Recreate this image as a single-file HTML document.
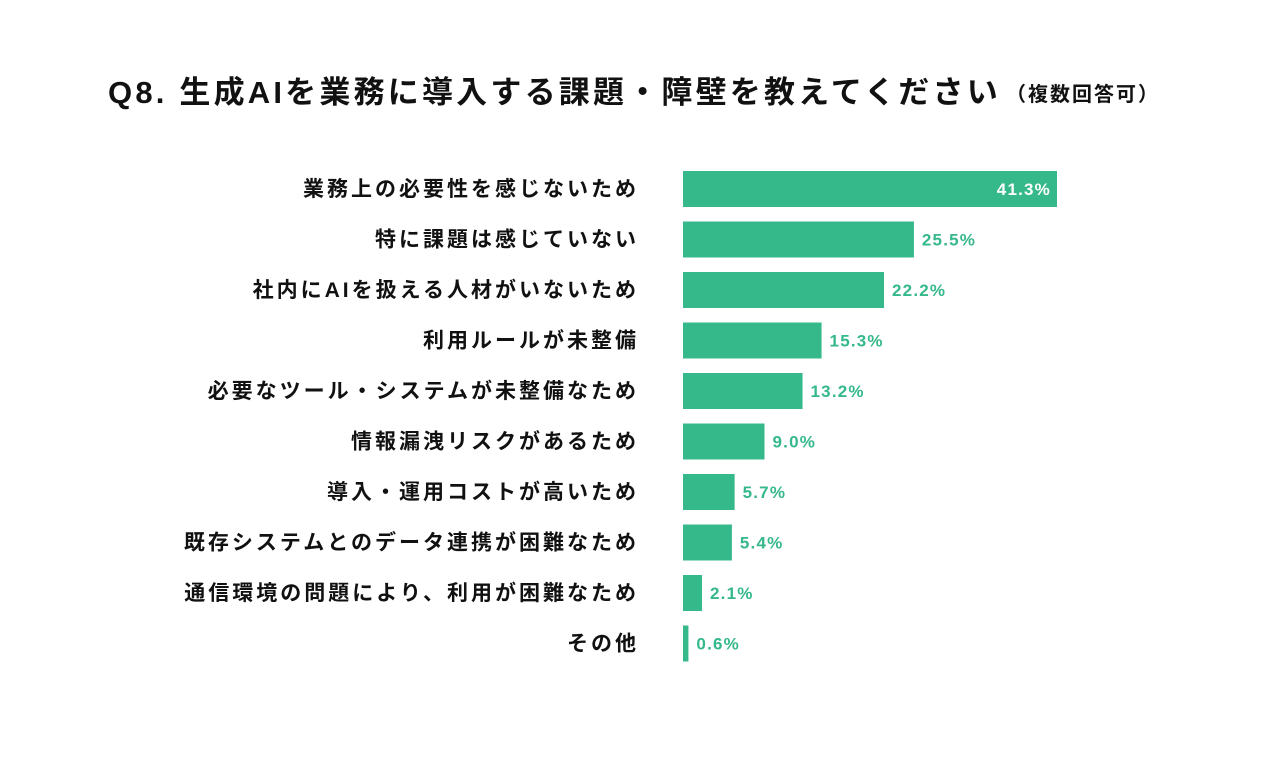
<!DOCTYPE html>
<html><head><meta charset="utf-8"><style>
body{margin:0;width:1280px;height:766px;background:#fff;overflow:hidden;font-family:"Liberation Sans","Noto Sans CJK JP",sans-serif}
#title{position:absolute;left:108px;top:67px;font-size:31px;font-weight:bold;color:#111;white-space:nowrap;letter-spacing:3.2px}
#note{position:absolute;left:1006px;top:78px;font-size:20px;font-weight:bold;color:#111;letter-spacing:2px;white-space:nowrap}
svg{position:absolute;left:0;top:0}
</style></head><body>
<div id="title">Q8. 生成AIを業務に導入する課題・障壁を教えてください</div>
<div id="note">（複数回答可）</div>
<svg id="chart" width="1280" height="766"></svg>
<script>
const categories=["業務上の必要性を感じないため","特に課題は感じていない","社内にAIを扱える人材がいないため","利用ルールが未整備","必要なツール・システムが未整備なため","情報漏洩リスクがあるため","導入・運用コストが高いため","既存システムとのデータ連携が困難なため","通信環境の問題により、利用が困難なため","その他"];
const values=[41.3,25.5,22.2,15.3,13.2,9.0,5.7,5.4,2.1,0.6];
const svg=document.getElementById('chart');
const NS='http://www.w3.org/2000/svg';
const x0=683, pxPer=374/41.3;
const xs=v=>v*pxPer;
const yc=i=>189+i*50.5;
const bh=36;
categories.forEach((c,i)=>{
  const t=document.createElementNS(NS,'text');
  
  
  t.setAttribute('x',636+3);t.setAttribute('y',yc(i)+7);
  t.setAttribute('text-anchor','end');t.setAttribute('font-size','21');
  t.setAttribute('letter-spacing','3');
  t.setAttribute('font-weight','bold');t.setAttribute('fill','#111');
  t.textContent=c;svg.appendChild(t);
  const r=document.createElementNS(NS,'rect');
  
  
  r.setAttribute('x',x0);r.setAttribute('y',yc(i)-bh/2);
  r.setAttribute('width',xs(values[i]));r.setAttribute('height',bh);
  r.setAttribute('fill','#35b88a');svg.appendChild(r);
  const v=document.createElementNS(NS,'text');
  
  
  const inside=i===0;
  v.setAttribute('x',inside?x0+xs(values[i])-6:x0+xs(values[i])+8);
  v.setAttribute('y',yc(i)+6);
  v.setAttribute('text-anchor',inside?'end':'start');
  v.setAttribute('font-size','17');v.setAttribute('font-weight','bold');
  v.setAttribute('letter-spacing','1.2');
  v.setAttribute('fill',inside?'#fff':'#35b88a');
  v.textContent=values[i].toFixed(1)+'%';svg.appendChild(v);
});
</script>
</body></html>
